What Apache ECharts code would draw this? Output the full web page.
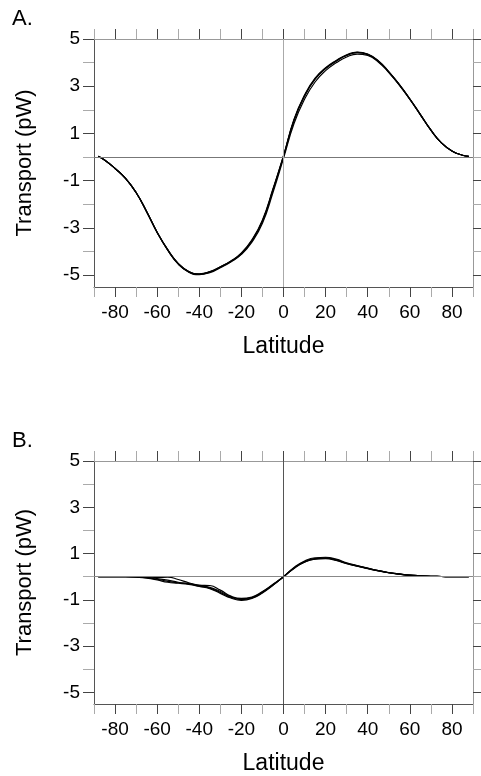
<!DOCTYPE html>
<html><head><meta charset="utf-8">
<script src="https://cdn.jsdelivr.net/npm/echarts@6/dist/echarts.min.js"></script>
<style>html,body{margin:0;padding:0;background:#fff}#c{width:481px;height:776px}</style>
</head><body><div id="c"></div>
<script>
const lat = [-88,-85,-80,-75,-70,-65,-60,-55,-50,-45,-40,-35,-30,-25,-20,-15,-10,-5,0,5,10,15,20,25,30,35,40,45,50,55,60,65,70,75,80,85,88];

// Panel A: total transport (several nearly identical runs)
const A1 = [0.03,-0.12,-0.48,-0.90,-1.50,-2.30,-3.18,-3.92,-4.50,-4.84,-4.95,-4.86,-4.66,-4.42,-4.10,-3.55,-2.72,-1.40,0.02,1.55,2.58,3.30,3.75,4.06,4.30,4.42,4.34,4.06,3.60,3.06,2.45,1.80,1.14,0.60,0.26,0.08,0.03];
const A2 = [0.03,-0.12,-0.48,-0.90,-1.50,-2.31,-3.19,-3.94,-4.53,-4.87,-4.98,-4.89,-4.68,-4.44,-4.12,-3.60,-2.80,-1.50,-0.05,1.42,2.45,3.18,3.66,3.99,4.24,4.36,4.30,4.03,3.58,3.05,2.44,1.79,1.14,0.60,0.26,0.08,0.03];
const A3 = [0.03,-0.12,-0.48,-0.91,-1.51,-2.32,-3.20,-3.93,-4.52,-4.86,-4.96,-4.87,-4.65,-4.40,-4.06,-3.50,-2.66,-1.34,0.06,1.60,2.63,3.34,3.78,4.09,4.33,4.45,4.36,4.08,3.62,3.08,2.47,1.81,1.15,0.60,0.26,0.08,0.03];
const A4 = [0.03,-0.12,-0.48,-0.90,-1.50,-2.30,-3.18,-3.92,-4.51,-4.85,-4.94,-4.85,-4.64,-4.41,-4.08,-3.53,-2.70,-1.38,0.04,1.57,2.60,3.31,3.76,4.07,4.31,4.43,4.35,4.07,3.61,3.07,2.46,1.80,1.14,0.60,0.26,0.08,0.03];

// Panel B
const B1 = [0,0,0,0,-0.01,-0.03,-0.08,-0.15,-0.24,-0.30,-0.38,-0.46,-0.64,-0.86,-0.96,-0.90,-0.66,-0.35,0,0.38,0.65,0.78,0.80,0.72,0.58,0.47,0.36,0.26,0.18,0.12,0.07,0.04,0.02,0.01,0,0,0];
const B2 = [0,0,0,0,0,-0.01,-0.03,-0.02,-0.12,-0.26,-0.36,-0.38,-0.58,-0.84,-0.94,-0.88,-0.64,-0.33,0,0.40,0.68,0.82,0.84,0.76,0.60,0.48,0.37,0.26,0.18,0.12,0.07,0.04,0.02,0.01,0,0,0];
const B3 = [0,0,0,0,-0.02,-0.06,-0.14,-0.24,-0.28,-0.33,-0.42,-0.52,-0.72,-0.92,-1.02,-0.94,-0.70,-0.37,0,0.36,0.63,0.76,0.78,0.70,0.56,0.46,0.35,0.25,0.17,0.11,0.06,0.03,0.02,0.01,0,0,0];
const B4 = [0,0,0,0,-0.01,-0.04,-0.11,-0.20,-0.26,-0.31,-0.40,-0.49,-0.68,-0.89,-0.99,-0.92,-0.68,-0.36,0,0.37,0.64,0.77,0.82,0.74,0.57,0.46,0.36,0.26,0.17,0.11,0.07,0.04,0.02,0.01,0,0,0];

const xMajor = [-80,-60,-40,-20,0,20,40,60,80];
const xMinor = [-90,-70,-50,-30,-10,10,30,50,70,90];
const yMajor = [-5,-3,-1,1,3,5];
const yMinor = [-4,-2,0,2,4];
const panelLabels = ['A.','B.'];
const xTitle = 'Latitude';
const yTitle = 'Transport (pW)';

const FONT = 'Liberation Sans, Arial, Helvetica, sans-serif';
const grids = [
  {left:94, top:39, width:379, height:248},
  {left:94, top:461, width:379, height:247}
];

const xAxes = [], yAxes = [], series = [];
grids.forEach((g, gi) => {
  const base = {type:'value', gridIndex:gi, min:-90, max:90, splitLine:{show:false}};
  xAxes.push(Object.assign({}, base, {position:'bottom',
    axisLine:{show:true, onZero:false, lineStyle:{color:'#555', width:1}},
    axisTick:{show:true, length:10, customValues:xMajor, lineStyle:{color:'#444'}},
    axisLabel:{show:true, customValues:xMajor, margin:16, color:'#000', fontSize:19, fontFamily:FONT},
    name:xTitle, nameLocation:'middle', nameGap:48,
    nameTextStyle:{color:'#000', fontSize:23, fontFamily:FONT}}));
  xAxes.push(Object.assign({}, base, {position:'bottom',
    axisLine:{show:false, onZero:false}, axisLabel:{show:false},
    axisTick:{show:true, length:10, customValues:xMinor, lineStyle:{color:'#aaa'}}}));
  xAxes.push(Object.assign({}, base, {position:'top',
    axisLine:{show:true, onZero:false, lineStyle:{color:'#999', width:1}}, axisLabel:{show:false},
    axisTick:{show:true, length:10, customValues:xMajor, lineStyle:{color:'#444'}}}));
  xAxes.push(Object.assign({}, base, {position:'top',
    axisLine:{show:false, onZero:false}, axisLabel:{show:false},
    axisTick:{show:true, length:10, customValues:xMinor, lineStyle:{color:'#aaa'}}}));

  const ybase = {type:'value', gridIndex:gi, min:-5.5, max:5, splitLine:{show:false}};
  yAxes.push(Object.assign({}, ybase, {position:'left',
    axisLine:{show:true, onZero:false, lineStyle:{color:'#555', width:1}},
    axisTick:{show:true, length:11, customValues:yMajor, lineStyle:{color:'#444'}},
    axisLabel:{show:true, customValues:yMajor, margin:14, color:'#000', fontSize:19, fontFamily:FONT},
    name:yTitle, nameLocation:'middle', nameGap:58,
    nameTextStyle:{color:'#000', fontSize:22, fontFamily:FONT}}));
  yAxes.push(Object.assign({}, ybase, {position:'left',
    axisLine:{show:false, onZero:false}, axisLabel:{show:false},
    axisTick:{show:true, length:11, customValues:yMinor, lineStyle:{color:'#aaa'}}}));
  yAxes.push(Object.assign({}, ybase, {position:'right',
    axisLine:{show:true, onZero:false, lineStyle:{color:'#999', width:1}}, axisLabel:{show:false},
    axisTick:{show:true, length:8, customValues:yMajor, lineStyle:{color:'#444'}}}));
  yAxes.push(Object.assign({}, ybase, {position:'right',
    axisLine:{show:false, onZero:false}, axisLabel:{show:false},
    axisTick:{show:true, length:8, customValues:yMinor, lineStyle:{color:'#aaa'}}}));
});

function mk(arr, gi, marks) {
  const s = {type:'line', xAxisIndex:gi*4, yAxisIndex:gi*4, showSymbol:false, smooth:true,
    data: lat.map((x,i)=>[x, arr[i]]),
    lineStyle:{color:'#000', width:1.2}, silent:true, z:3};
  if (marks) {
    s.markLine = {silent:true, symbol:'none', label:{show:false}, animation:false,
      data:[
        {yAxis:0, lineStyle:{color: gi===0?'#777':'#888', width:1, type:'solid'}},
        {xAxis:0, lineStyle:{color: gi===0?'#aaa':'#555', width:1, type:'solid'}}
      ]};
  }
  return s;
}
[A1,A2,A3,A4].forEach((a,i)=>series.push(mk(a,0,i===0)));
[B1,B2,B3,B4].forEach((a,i)=>series.push(mk(a,1,i===0)));

const chart = echarts.init(document.getElementById('c'), null, {renderer:'canvas'});
chart.setOption({
  animation:false,
  backgroundColor:'#fff',
  grid: grids,
  xAxis: xAxes,
  yAxis: yAxes,
  series: series,
  graphic: [
    {type:'text', left:12, top:8, style:{text:panelLabels[0], fill:'#000', font:'22px '+FONT}},
    {type:'text', left:12, top:430, style:{text:panelLabels[1], fill:'#000', font:'22px '+FONT}}
  ]
});
</script></body></html>
